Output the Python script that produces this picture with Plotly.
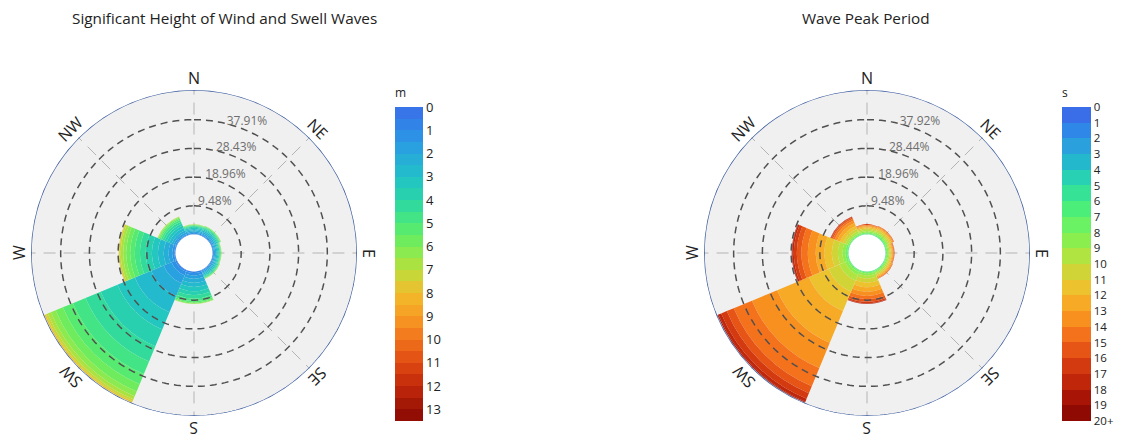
import numpy as np
import plotly.graph_objects as go

# ---------------- data ----------------
directions = ["N", "NE", "E", "SE", "S", "SW", "W", "NW"]
dir_deg = [0, 45, 90, 135, 180, 225, 270, 315]

# Significant wave height bins (m), 0.5 m wide -> bin mid values
hs_mid = [0.25, 0.75, 1.25, 1.75, 2.25, 2.75, 3.25, 3.75,
          4.25, 4.75, 5.25, 5.75, 6.25, 6.75, 7.25, 7.75]
hs_N = [0.08, 0.2, 0.3, 0.4, 0.42, 0.42, 0.38, 0.33, 0.27, 0.2, 0.15, 0.1, 0.07, 0.05, 0.03, 0]
hs_NE = [0.08, 0.2, 0.32, 0.42, 0.45, 0.45, 0.4, 0.35, 0.3, 0.22, 0.16, 0.11, 0.07, 0.04, 0.03, 0]
hs_E = [0.07, 0.18, 0.28, 0.35, 0.38, 0.37, 0.34, 0.3, 0.24, 0.18, 0.13, 0.08, 0.05, 0.03, 0.02, 0]
hs_SE = [0.08, 0.19, 0.3, 0.38, 0.4, 0.4, 0.36, 0.32, 0.26, 0.19, 0.13, 0.09, 0.05, 0.03, 0.02, 0]
hs_S = [0.1, 0.4, 0.8, 1.1, 1.3, 1.4, 1.4, 1.3, 1.1, 0.8, 0.5, 0.3, 0.15, 0.05, 0, 0]
hs_SW = [0.15, 0.5, 1.3, 2.8, 4.5, 5.8, 6.2, 6.0, 5.4, 4.5, 3.6, 2.6, 1.7, 1.1, 0.7, 0.55]
hs_W = [0.1, 0.3, 0.7, 1.2, 1.6, 1.9, 2.0, 2.0, 1.9, 1.7, 1.5, 1.3, 1.0, 0.8, 0.5, 0.2]
hs_NW = [0.05, 0.2, 0.4, 0.6, 0.75, 0.85, 0.85, 0.8, 0.7, 0.6, 0.45, 0.35, 0.2, 0.12, 0.08, 0]

# Peak period bands (s), 1 s wide -> band mid values
tp_mid = [5.5, 6.5, 7.5, 8.5, 9.5, 10.5, 11.5, 12.5, 13.5, 14.5, 15.5, 16.5, 17.5, 18.5, 19.5]
tp_N = [0.1, 0.25, 0.35, 0.4, 0.45, 0.45, 0.4, 0.35, 0.3, 0.2, 0.1, 0.05, 0, 0, 0]
tp_NE = [0.1, 0.25, 0.4, 0.45, 0.5, 0.5, 0.45, 0.35, 0.3, 0.2, 0.07, 0.03, 0, 0, 0]
tp_E = [0.1, 0.2, 0.3, 0.35, 0.4, 0.4, 0.35, 0.3, 0.25, 0.2, 0.1, 0.05, 0, 0, 0]
tp_SE = [0.1, 0.2, 0.35, 0.4, 0.4, 0.4, 0.4, 0.35, 0.3, 0.2, 0.07, 0.03, 0, 0, 0]
tp_S = [0.05, 0.2, 0.4, 0.7, 1.0, 1.3, 1.5, 1.5, 1.4, 1.1, 0.8, 0.5, 0.2, 0.05, 0]
tp_SW = [0.05, 0.2, 0.5, 1.0, 2.0, 3.9, 7.0, 11.35, 9.0, 6.5, 2.5, 2.0, 1.0, 0.3, 0.1]
tp_W = [0.1, 0.3, 0.6, 1.0, 1.5, 2.0, 2.5, 2.8, 2.6, 2.1, 1.5, 1.0, 0.5, 0.15, 0.05]
tp_NW = [0.05, 0.15, 0.3, 0.5, 0.7, 0.9, 1.0, 1.0, 0.9, 0.65, 0.45, 0.25, 0.1, 0.05, 0]

hs_ticks = [9.48, 18.96, 28.43, 37.91]
hs_tick_text = ["9.48%", "18.96%", "28.43%", "37.91%"]
tp_ticks = [9.48, 18.96, 28.44, 37.92]
tp_tick_text = ["9.48%", "18.96%", "28.44%", "37.92%"]

hs_cbar_labels = [str(i) for i in range(14)]
tp_cbar_labels = [str(i) for i in range(20)] + ["20+"]

hs_by_dir = [hs_N, hs_NE, hs_E, hs_SE, hs_S, hs_SW, hs_W, hs_NW]
tp_by_dir = [tp_N, tp_NE, tp_E, tp_SE, tp_S, tp_SW, tp_W, tp_NW]

# ---------------- layout geometry (screen pixels) ----------------
W, H = 1123, 442          # browser window
OFF = 8                   # default page body margin
FW, FH = W - OFF, H - OFF  # figure size so it ends at the window edge
R_PX = 163
CY = 253
CX_L, CX_R = 194, 867
RMAX = 47.7
LABEL_R = 175
FONT = "Open Sans"


def sx(x):
    return (x - OFF) / FW


def sy(y):
    return (FH - (y - OFF)) / FH


hs_anchor_vals = [0, 1, 2, 3, 4, 5, 6, 7, 8, 9, 10, 11, 12, 13, 13.5]
hs_anchor_cols = ["#3a6ee8", "#2f8ae8", "#27a8dc", "#22c0c8", "#2ad6a8", "#4be87a",
                  "#7aee55", "#bade3c", "#f2bc2c", "#f79c24", "#f2731c", "#df4a13",
                  "#c2290b", "#9a1205", "#8a0a02"]
tp_band_cols = ["#3a6ee8", "#2f88e8", "#2aa0dc", "#24b8cc", "#28d0b4", "#36e296",
                "#4cee7a", "#6af264", "#8aee4e", "#b0e440", "#d0d436", "#ecc22e",
                "#f6aa26", "#f89020", "#f4721c", "#e65416", "#d43a10", "#bf260a",
                "#a81406", "#8e0a02"]


def hex2rgb(h):
    h = h.lstrip("#")
    return np.array([int(h[i:i + 2], 16) for i in (0, 2, 4)], dtype=float)


def interp_col(v):
    rgb = np.array([np.interp(v, hs_anchor_vals, [hex2rgb(c)[k] for c in hs_anchor_cols])
                    for k in range(3)])
    return "rgb(%d,%d,%d)" % tuple(np.round(rgb).astype(int))


def stepped_scale(cols):
    n = len(cols)
    scale = []
    # negative values: band k (value k..k+1) sits at [-(k+1), -k]
    for k in range(n - 1, -1, -1):
        lo = (n - 1 - k) / n
        hi = (n - k) / n
        scale.append([lo, cols[k]])
        scale.append([hi, cols[k]])
    return scale


hs_band_cols = [interp_col(0.5 * j + 0.25) for j in range(27)]
hs_scale = stepped_scale(hs_band_cols)
tp_scale = stepped_scale(tp_band_cols)


def stacked(values_by_dir, mids):
    r, base, theta, col = [], [], [], []
    for d, vals in zip(dir_deg, values_by_dir):
        cum = np.concatenate([[0], np.cumsum(vals)[:-1]])
        for v, b, m in zip(vals, cum, mids):
            if v <= 0:
                continue
            r.append(v)
            base.append(b)
            theta.append(d)
            col.append(-m)
    return r, base, theta, col


fig = go.Figure()


def add_rose(polar_id, values_by_dir, mids, scale, cmin, cbar_labels, cbar_title,
             cbar_x, cbar_thick, ticks, tick_text, cbar_font):
    r, base, theta, col = stacked(values_by_dir, mids)
    fig.add_trace(go.Barpolar(
        r=r, base=base, theta=theta, width=45,
        marker=dict(color=col, colorscale=scale, cmin=cmin, cmax=0,
                    line=dict(width=0),
                    colorbar=dict(
                        x=sx(cbar_x), xanchor="left", xpad=0, ypad=0,
                        y=sy(421), yanchor="bottom",
                        lenmode="pixels", len=336, thickness=cbar_thick,
                        tickmode="array",
                        tickvals=[-i for i in range(len(cbar_labels))],
                        ticktext=cbar_labels, ticks="",
                        tickfont=dict(family=FONT, size=cbar_font, color="#222"),
                        outlinewidth=0,
                        title=dict(text=cbar_title, side="top",
                                   font=dict(family=FONT, size=12, color="#222")))),
        subplot=polar_id, showlegend=False, hoverinfo="skip"))
    ring_theta = np.linspace(0, 360, 241)
    for t in ticks:
        fig.add_trace(go.Scatterpolar(
            r=[t] * len(ring_theta), theta=ring_theta, mode="lines",
            line=dict(color="#505050", width=1.5, dash="7px,5px"),
            subplot=polar_id, showlegend=False, hoverinfo="skip"))
    # outer rim
    fig.add_trace(go.Scatterpolar(
        r=[RMAX] * len(ring_theta), theta=ring_theta, mode="lines",
        line=dict(color="#3f5fa3", width=1.6),
        subplot=polar_id, showlegend=False, hoverinfo="skip", cliponaxis=False))
    fig.add_trace(go.Scatterpolar(
        r=[t + 2.7 for t in ticks], theta=[22] * len(ticks), mode="text",
        text=tick_text, textfont=dict(family=FONT, size=12, color="#6e6e6e"),
        subplot=polar_id, showlegend=False, hoverinfo="skip", cliponaxis=False))


add_rose("polar", hs_by_dir, hs_mid, hs_scale, -13.5, hs_cbar_labels, "m",
         395, 28, hs_ticks, hs_tick_text, 13)
add_rose("polar2", tp_by_dir, tp_mid, tp_scale, -20, tp_cbar_labels, "s",
         1062, 29, tp_ticks, tp_tick_text, 11.5)


def polar_layout(cx):
    return dict(
        domain=dict(x=[sx(cx - R_PX), sx(cx + R_PX)],
                    y=[sy(CY + R_PX), sy(CY - R_PX)]),
        bgcolor="#f0f0f0", hole=0.113,
        radialaxis=dict(range=[0, RMAX], showline=False, showticklabels=False,
                        showgrid=False, ticks=""),
        angularaxis=dict(direction="clockwise", rotation=90, tickmode="array",
                         tickvals=dir_deg, showticklabels=False, ticks="",
                         showline=False,
                         showgrid=True, gridcolor="#b4b4b4", gridwidth=1.3,
                         griddash="12px,8px"))


annotations = []
for cx in (CX_L, CX_R):
    for name, d in zip(directions, dir_deg):
        a = np.deg2rad(d)
        px = cx + LABEL_R * np.sin(a)
        py = CY - LABEL_R * np.cos(a)
        ang = d if d <= 180 else d - 360
        annotations.append(dict(
            x=sx(px), y=sy(py), xref="paper", yref="paper",
            text=name, showarrow=False, textangle=ang,
            xanchor="center", yanchor="middle",
            font=dict(family=FONT, size=16, color="#222")))

annotations.append(dict(x=sx(224), y=sy(18), xref="paper", yref="paper",
                        text="Significant Height of Wind and Swell Waves",
                        showarrow=False, xanchor="center", yanchor="middle",
                        font=dict(family=FONT, size=15.3, color="#222")))
annotations.append(dict(x=sx(866), y=sy(18), xref="paper", yref="paper",
                        text="Wave Peak Period",
                        showarrow=False, xanchor="center", yanchor="middle",
                        font=dict(family=FONT, size=15.3, color="#222")))

fig.update_layout(
    width=FW, height=FH, margin=dict(l=0, r=0, t=0, b=0),
    paper_bgcolor="white", plot_bgcolor="white",
    polar=polar_layout(CX_L), polar2=polar_layout(CX_R),
    annotations=annotations, showlegend=False,
)

fig.write_html("out.html")
